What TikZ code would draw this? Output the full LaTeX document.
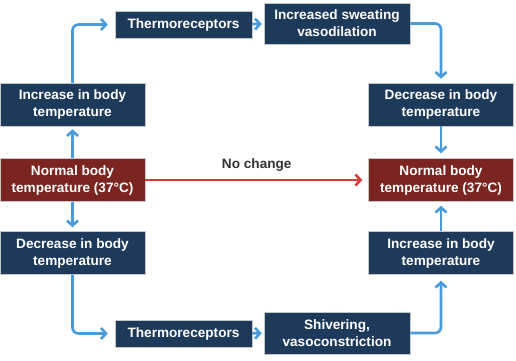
\documentclass[tikz,border=0pt]{standalone}
\usepackage{fontspec}
\setmainfont{Liberation Sans}
\usepackage{tikz}
\usetikzlibrary{arrows.meta,positioning}
\usepackage{xcolor}
\definecolor{boxnavy}{HTML}{1E3A5A}
\definecolor{boxred}{HTML}{7A2520}
\definecolor{arrblue}{HTML}{4A9BDB}
\definecolor{arrred}{HTML}{D63B35}
\definecolor{labgray}{HTML}{333333}

\begin{document}
\begin{tikzpicture}[
  x=1pt, y=1pt,
  font=\fontsize{13.6}{17}\selectfont\bfseries,
  >={Straight Barb[length=5pt,width=11pt]},
  stage/.style={rectangle, draw=gray!45, fill=boxnavy, text=white,
                minimum width=145pt, minimum height=43pt, align=center,
                inner sep=1pt, line width=0.5pt},
  normal/.style={stage, fill=boxred},
  sensor/.style={stage, minimum width=137pt, minimum height=27pt},
  flow/.style={->, draw=arrblue, line width=2.6pt, rounded corners=6pt},
  nochg/.style={->, draw=arrred, line width=2.6pt},
]
\useasboundingbox (0,0) rectangle (516,-360);

% Left column
\node[stage]  (incL)  at (72.5,-104.5) {Increase in body\\temperature};
\node[normal] (normL) at (72.5,-180)   {Normal body\\temperature (37°C)};
\node[stage]  (decL)  at (72.5,-253)   {Decrease in body\\temperature};

% Top and bottom rows
\node[sensor] (thermT) at (183.5,-24.5)  {Thermoreceptors};
\node[stage, minimum width=146pt, minimum height=41pt] (sweat) at (337,-23.5)
  {Increased sweating\\vasodilation};
\node[sensor] (thermB) at (183.5,-333.5) {Thermoreceptors};
\node[stage, minimum width=146pt, minimum height=42pt] (shiv) at (337,-333)
  {Shivering,\\vasoconstriction};

% Right column
\node[stage]  (decR)  at (441,-104.5) {Decrease in body\\temperature};
\node[normal] (normR) at (441,-180)   {Normal body\\temperature (37°C)};
\node[stage]  (incR)  at (441,-253)   {Increase in body\\temperature};

% Too warm
\draw[flow, shorten >=3pt] (normL) -- (incL);
\draw[flow, shorten >=7pt] (incL.north) |- (thermT.west);
\draw[flow, shorten >=2pt] (thermT) -- (sweat);
\draw[flow, shorten >=4pt] (sweat.east) -| (decR.north);
\draw[flow, shorten >=5pt] (decR) -- (normR);

% Too cold
\draw[flow, shorten >=4pt] (normL) -- (decL);
\draw[flow, shorten >=7pt] (decL.south) |- (thermB.west);
\draw[flow, shorten >=2pt] (thermB) -- (shiv);
\draw[flow, shorten >=6pt] (shiv.east) -| (incR.south);
\draw[flow, shorten >=4pt] (incR) -- (normR);

% Straight through
\draw[nochg, shorten >=6pt] (normL) -- (normR)
  node[midway, above=4pt, text=labgray] {No change};

\end{tikzpicture}
\end{document}
